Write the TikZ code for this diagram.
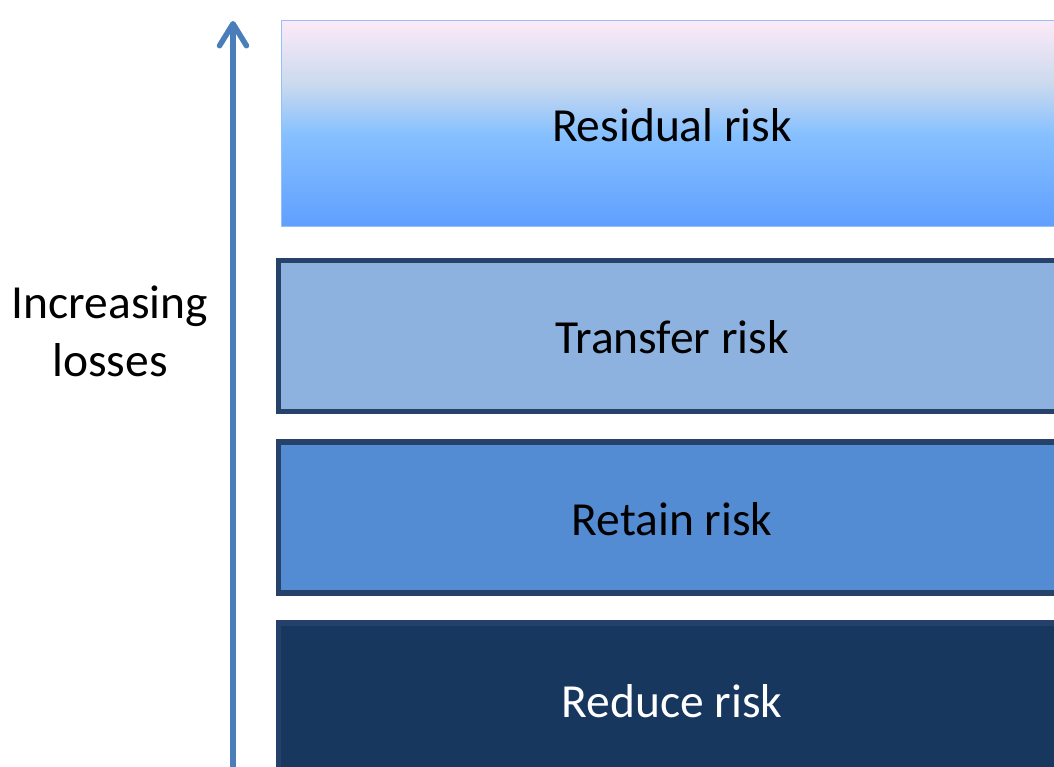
\documentclass[tikz,border=0pt]{standalone}
\usepackage{fontspec}
\setmainfont{Carlito}
\usetikzlibrary{arrows.meta}
\definecolor{arrowblue}{HTML}{4A7EBB}
\definecolor{borderblue}{HTML}{26426A}
\definecolor{transferfill}{HTML}{8EB2E0}
\definecolor{retainfill}{HTML}{548CD3}
\definecolor{reducefill}{HTML}{17375E}
\definecolor{reduceborder}{HTML}{25406A}
\definecolor{resborder}{HTML}{96C0FA}
\definecolor{restop}{HTML}{FCEAF8}
\definecolor{resupper}{HTML}{CCDAEE}
\definecolor{resmid}{HTML}{86C0FF}
\definecolor{resbot}{HTML}{5F9FFF}
\pgfdeclareverticalshading{residshade}{100bp}{color(0bp)=(resbot); color(25bp)=(resbot); color(47.5bp)=(resmid); color(60bp)=(resupper); color(75bp)=(restop); color(100bp)=(restop)}
\newcommand{\lowered}[1]{\raisebox{-2.5pt}{#1}}
\begin{document}
\begin{tikzpicture}[x=1pt,y=-1pt,
  layer/.style={rectangle, minimum width=787pt, minimum height=151pt, inner sep=0pt,
    font=\fontsize{47.5}{57}\selectfont, text height=30pt, text depth=0pt,
    line width=5.5pt, draw=borderblue},
  sidelabel/.style={align=center, font=\fontsize{47.5}{58}\selectfont, inner sep=0pt},
  axisarrow/.style={draw=arrowblue, line width=5.5pt,
    -{Straight Barb[length=22pt,width=27pt,line cap=round,line join=round]}}]
\clip (0,0) rectangle (1054,767);
\fill[white] (0,0) rectangle (1054,767);
\node[layer, shading=residshade, draw=resborder, line width=1pt,
  minimum width=782pt, minimum height=206pt] (residual) at (672,124) {\lowered{Residual risk}};
\node[layer, fill=transferfill] (transfer) at (672,336) {\lowered{Transfer risk}};
\node[layer, fill=retainfill] (retain) at (672,517.5) {\lowered{Retain risk}};
\node[layer, fill=reducefill, draw=reduceborder, text=white, minimum height=153pt] (reduce) at (672,699.5) {\lowered{Reduce risk}};
\node[sidelabel] (losses) at (110,331) {Increasing\\losses};
\coordinate (arrowbottom) at (233,780);
\coordinate (arrowtop) at (233,21);
\draw[axisarrow] (arrowbottom) -- (arrowtop);
\end{tikzpicture}
\end{document}
